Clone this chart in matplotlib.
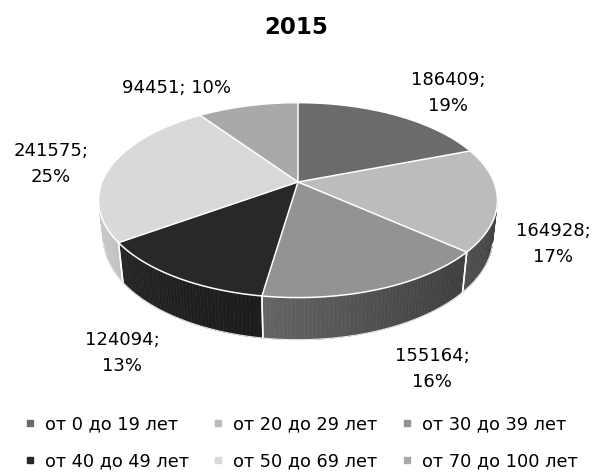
import numpy as np
import matplotlib
matplotlib.use("Agg")
import matplotlib.pyplot as plt
from matplotlib.patches import Polygon
from matplotlib.lines import Line2D

# ---- data ----
title = "2015"
categories = ["от 0 до 19 лет", "от 20 до 29 лет", "от 30 до 39 лет",
              "от 40 до 49 лет", "от 50 до 69 лет", "от 70 до 100 лет"]
values = [186409, 164928, 155164, 124094, 241575, 94451]
colors = ["#6b6b6b", "#bcbcbc", "#939393", "#282828", "#d9d9d9", "#a9a9a9"]

# ---- layout (pixel units, figure 592x472) ----
W, H = 592, 472
CX, CY = 298, 182          # pie centre on screen
SCALE = 196                # pixels per unit radius
ELEV = np.radians(28.7)    # camera elevation
DIST = 4.72                # camera distance (units of radius)
THICK = 0.22               # pie thickness (units of radius)
# label centres and whether the value/percent go on two lines
label_pos = [(448, 93), (553, 244), (432, 369), (122, 353), (51, 164), (177, 88)]
label_wrap = [True, True, True, True, True, False]

fig = plt.figure(figsize=(W / 100, H / 100), dpi=100)
ax = fig.add_axes([0, 0, 1, 1])
ax.set_xlim(0, W)
ax.set_ylim(H, 0)
ax.axis("off")

cE, sE = np.cos(ELEV), np.sin(ELEV)


def project(theta, z=0.0, r=1.0):
    """Perspective projection of a point on the pie (theta clockwise from top)."""
    x = r * np.sin(theta)
    y = r * np.cos(theta)
    depth = DIST + y * cE - z * sE
    u = x * DIST / depth
    v = (y * sE + z * cE) * DIST / depth
    return CX + SCALE * u, CY - SCALE * v


def shade(hexcol, f):
    rgb = np.array(matplotlib.colors.to_rgb(hexcol))
    return tuple(np.clip(rgb * f, 0, 1))


total = float(sum(values))
fracs = np.array(values) / total
bounds = np.concatenate([[0], np.cumsum(fracs)]) * 2 * np.pi

# visible range of the outer wall
tvis = np.arccos(-1.0 / (DIST * cE))
vis_lo, vis_hi = tvis, 2 * np.pi - tvis
light_dir = np.radians(270)

# outer walls
for i, col in enumerate(colors):
    a, b = max(bounds[i], vis_lo), min(bounds[i + 1], vis_hi)
    if a >= b:
        continue
    n = max(int(np.degrees(b - a)), 2)
    ts = np.linspace(a, b, n + 1)
    for t0, t1 in zip(ts[:-1], ts[1:]):
        tm = 0.5 * (t0 + t1)
        f = 0.64 + 0.30 * np.cos(tm - light_dir)
        fc = shade(col, f)
        pts = [project(t0, 0), project(t1, 0), project(t1, -THICK), project(t0, -THICK)]
        ax.add_patch(Polygon(pts, closed=True, facecolor=fc, edgecolor=fc,
                             linewidth=0.4, zorder=2))
    # vertical seam at wedge boundaries on the visible wall
    for t in (bounds[i], bounds[i + 1]):
        if vis_lo < t < vis_hi:
            p0, p1 = project(t, 0), project(t, -THICK)
            ax.plot([p0[0], p1[0]], [p0[1], p1[1]], color="white", lw=1.1, zorder=3)

# bottom rim of the wall
tb = np.linspace(vis_lo, vis_hi, 200)
bx, by = project(tb, -THICK)
ax.plot(bx, by, color="#e8e8e8", lw=0.8, zorder=3)

# top faces
centre = project(0, 0, 0)
for i, col in enumerate(colors):
    ts = np.linspace(bounds[i], bounds[i + 1], 120)
    px, py = project(ts, 0)
    pts = [centre] + list(zip(px, py))
    ax.add_patch(Polygon(pts, closed=True, facecolor=col, edgecolor="none", zorder=4))

# white edges on top
for t in bounds[:-1]:
    p = project(t, 0)
    ax.plot([centre[0], p[0]], [centre[1], p[1]], color="white", lw=1.1, zorder=5)
tt = np.linspace(0, 2 * np.pi, 400)
rx, ry = project(tt, 0)
ax.plot(rx, ry, color="white", lw=1.1, zorder=5)

# data labels
for i, v in enumerate(values):
    pct = int(round(fracs[i] * 100))
    sep = ";\n" if label_wrap[i] else "; "
    ax.text(label_pos[i][0], label_pos[i][1], f"{v}{sep}{pct}%",
            ha="center", va="center", multialignment="center",
            fontsize=13, color="#000000", linespacing=1.6, zorder=6)

# title
fig.text(0.5, 1 - 28 / H, title, ha="center", va="center",
         fontsize=16.5, fontweight="bold", color="#000000")

# legend laid out row by row
handles = [Line2D([], [], marker="s", linestyle="none", markersize=4.5,
                  markerfacecolor=c, markeredgecolor=c) for c in colors]
order = [0, 3, 1, 4, 2, 5]
fig.legend([handles[k] for k in order], [categories[k] for k in order],
           ncol=3, loc="center", bbox_to_anchor=(0.5 + 5 / W, 1 - 443 / H),
           frameon=False, fontsize=12.8, handlelength=0.6, handletextpad=0.55,
           columnspacing=1.35, labelspacing=1.05, borderpad=0)

fig.savefig("out.png", dpi=100, facecolor="white")
